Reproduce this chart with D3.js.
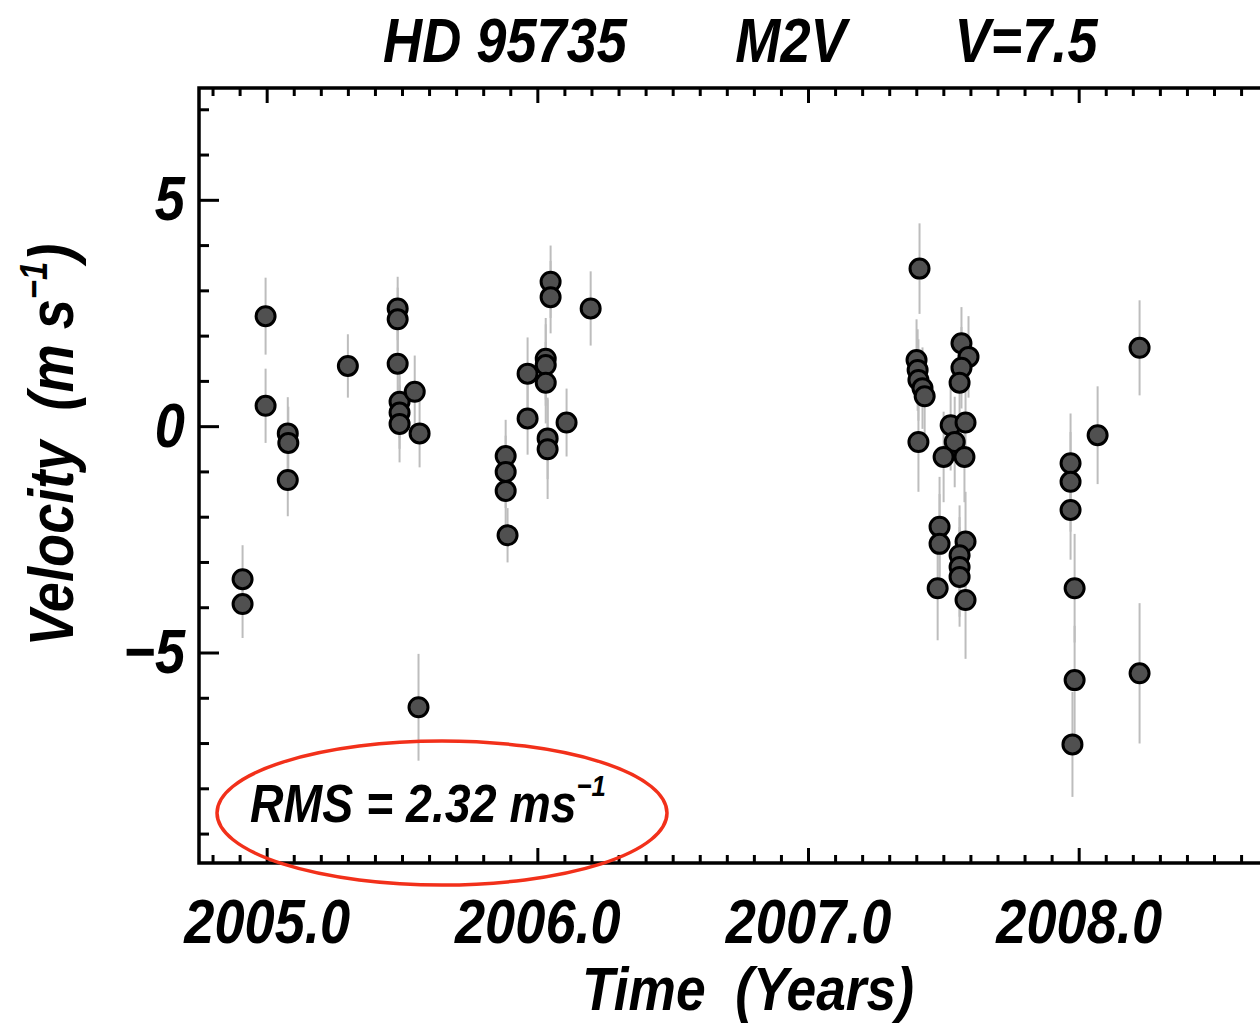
<!DOCTYPE html>
<html>
<head>
<meta charset="utf-8">
<title>HD 95735 radial velocities</title>
<script src="https://d3js.org/d3.v7.min.js"></script>
<style>
  body { margin: 0; background: #fff; overflow: hidden; }
  svg text { font-family: "Liberation Sans", Arial, Helvetica, sans-serif; font-weight: bold; font-style: italic; fill: #000; }
  .axis path { display: none; }
  .axis line { stroke: #000; stroke-width: 3; }
  .err { stroke: #bdbdbd; stroke-width: 2; }
  .pt { fill: #505050; stroke: #000; stroke-width: 3; }
</style>
</head>
<body>
<div id="chart"></div>
<script>
    const years = [
        2004.911, 2004.911, 2004.996, 2004.996, 2005.078, 2005.080, 2005.078, 2005.300,
        2005.484, 2005.484, 2005.484, 2005.491, 2005.491, 2005.491, 2005.547, 2005.565, 2005.561,
        2005.883, 2005.883, 2005.883, 2005.890, 2005.964, 2005.964,
        2006.031, 2006.031, 2006.031, 2006.038, 2006.038, 2006.049, 2006.049, 2006.108, 2006.197,
        2007.412, 2007.401, 2007.405, 2007.408, 2007.423, 2007.431, 2007.408,
        2007.527, 2007.582, 2007.542, 2007.501, 2007.578,
        2007.567, 2007.593, 2007.567, 2007.560,
        2007.486, 2007.486, 2007.479, 2007.582, 2007.560, 2007.560, 2007.560, 2007.582,
        2007.970, 2007.970, 2007.970, 2007.985, 2007.985, 2007.977, 2008.070, 2008.225, 2008.225
    ];
    const velocities = [
        -3.38, -3.93, 2.43, 0.45, -0.16, -0.37, -1.19, 1.33,
        2.60, 2.36, 1.38, 0.54, 0.30, 0.05, 0.76, -0.16, -6.21,
        -0.66, -1.01, -1.43, -2.41, 1.16, 0.17,
        1.49, 1.35, 0.96, -0.27, -0.51, 3.19, 2.85, 0.08, 2.60,
        3.48, 1.46, 1.24, 1.02, 0.84, 0.66, -0.35,
        0.02, 0.08, -0.35, -0.68, -0.68,
        1.83, 1.53, 1.29, 0.96,
        -2.22, -2.60, -3.58, -2.55, -2.85, -3.11, -3.33, -3.84,
        -0.82, -1.23, -1.85, -3.58, -5.61, -7.03, -0.20, 1.73, -5.46
    ];
    const errors = [
        0.75, 0.75, 0.85, 0.82, 0.8, 0.8, 0.8, 0.7,
        0.7, 0.7, 0.8, 0.8, 0.8, 0.85, 0.8, 0.75, 1.18,
        0.8, 0.8, 0.8, 0.6, 0.8, 0.8,
        0.9, 0.9, 0.9, 0.9, 1.1, 0.8, 0.8, 0.75, 0.82,
        1.0, 0.9, 0.9, 0.9, 0.9, 0.9, 1.1,
        1.0, 1.0, 1.0, 1.0, 1.0,
        0.8, 0.9, 0.9, 0.9,
        1.1, 1.1, 1.15, 1.1, 1.1, 1.1, 1.1, 1.3,
        1.1, 1.1, 1.1, 1.2, 1.2, 1.16, 1.08, 1.05, 1.55
    ];

    const xMajor = [2005, 2006, 2007, 2008];
    const yMajor = [-5, 0, 5];
    const titleParts = ["HD 95735", "M2V", "V=7.5"];
    const rmsText = "RMS = 2.32 ms";

    const width = 1260, height = 1024;
    const plotLeft = 199, plotTop = 88, plotBottom = 863;
    const squeeze = 0.86;   // the original lettering is narrower than Helvetica

    const x = d3.scaleLinear().domain([2004.75, 2008.75]).range([plotLeft, plotLeft + 4 * 270.67]);
    const y = d3.scaleLinear().domain([-9.65, 7.47]).range([plotBottom, plotTop]);
    const plotRight = x(2008.75);

    const svg = d3.select("#chart").append("svg")
        .attr("width", width)
        .attr("height", height);

    const data = years.map((t, i) => ({ t, v: velocities[i], e: errors[i] }));

    // error bars then points
    svg.append("g").selectAll("line")
        .data(data)
        .join("line")
        .attr("class", "err")
        .attr("x1", d => x(d.t)).attr("x2", d => x(d.t))
        .attr("y1", d => y(d.v - d.e)).attr("y2", d => y(d.v + d.e));

    svg.append("g").selectAll("circle")
        .data(data)
        .join("circle")
        .attr("class", "pt")
        .attr("cx", d => x(d.t))
        .attr("cy", d => y(d.v))
        .attr("r", 9.5);

    // narrow the tick labels without moving them
    function narrow(sel) {
        sel.each(function () {
            const t = d3.select(this);
            const tx = +t.attr("x") || 0;
            t.attr("x", tx / squeeze).attr("transform", `scale(${squeeze},1)`);
        });
    }

    const xMinor = d3.range(2004.8, 2008.75, 0.1).filter(v => Math.abs(v - Math.round(v)) > 0.01);
    const yMinor = d3.range(-9, 8).filter(v => v % 5 !== 0);

    // bottom
    const gb = svg.append("g").attr("class", "axis").attr("transform", `translate(0,${plotBottom})`);
    gb.call(d3.axisBottom(x).tickValues(xMajor).tickSize(-15).tickPadding(35).tickFormat(d3.format(".1f")));
    gb.selectAll("text").style("font-size", "63px");
    narrow(gb.selectAll("text"));
    svg.append("g").attr("class", "axis").attr("transform", `translate(0,${plotBottom})`)
        .call(d3.axisBottom(x).tickValues(xMinor).tickSize(-8).tickFormat(""));

    // top
    svg.append("g").attr("class", "axis").attr("transform", `translate(0,${plotTop})`)
        .call(d3.axisTop(x).tickValues(xMajor).tickSize(-15).tickFormat(""));
    svg.append("g").attr("class", "axis").attr("transform", `translate(0,${plotTop})`)
        .call(d3.axisTop(x).tickValues(xMinor).tickSize(-8).tickFormat(""));

    // left
    const gl = svg.append("g").attr("class", "axis").attr("transform", `translate(${plotLeft},0)`);
    gl.call(d3.axisLeft(y).tickValues(yMajor).tickSize(-20).tickPadding(14)
        .tickFormat(d => d < 0 ? "\u2212" + Math.abs(d) : d));
    gl.selectAll("text").style("font-size", "63px");
    narrow(gl.selectAll("text"));
    svg.append("g").attr("class", "axis").attr("transform", `translate(${plotLeft},0)`)
        .call(d3.axisLeft(y).tickValues(yMinor).tickSize(-10).tickFormat(""));

    // right
    svg.append("g").attr("class", "axis").attr("transform", `translate(${plotRight},0)`)
        .call(d3.axisRight(y).tickValues(yMajor).tickSize(-20).tickFormat(""));
    svg.append("g").attr("class", "axis").attr("transform", `translate(${plotRight},0)`)
        .call(d3.axisRight(y).tickValues(yMinor).tickSize(-10).tickFormat(""));

    // frame
    svg.append("rect")
        .attr("x", plotLeft).attr("y", plotTop)
        .attr("width", plotRight - plotLeft).attr("height", plotBottom - plotTop)
        .attr("fill", "none").attr("stroke", "#000").attr("stroke-width", 3.5);

    function label(px, py, size, anchor, rotate) {
        return svg.append("text")
            .attr("transform", `translate(${px},${py}) rotate(${rotate || 0}) scale(${squeeze},1)`)
            .attr("text-anchor", anchor)
            .style("font-size", size + "px")
            .style("white-space", "pre");
    }

    // title
    const titleX = [505, 791, 1026];
    titleParts.forEach((s, i) => label(titleX[i], 62, 63, "middle").text(s));

    // axis titles
    const yl = label(73, 445, 63, "middle", -90);
    yl.append("tspan").text("Velocity  (m s");
    yl.append("tspan").attr("dy", -26).style("font-size", "38px").text("\u22121");
    yl.append("tspan").attr("dy", 26).text(")");

    label(748, 1010, 62, "middle").text("Time  (Years)");

    // RMS annotation
    const rt = label(250, 822, 54, "start");
    rt.append("tspan").text(rmsText);
    rt.append("tspan").attr("dy", -26).style("font-size", "30px").text("\u22121");

    svg.append("ellipse")
        .attr("cx", 442).attr("cy", 813)
        .attr("rx", 225).attr("ry", 72)
        .attr("fill", "none")
        .attr("stroke", "#f2301a")
        .attr("stroke-width", 3.5);
</script>
</body>
</html>
